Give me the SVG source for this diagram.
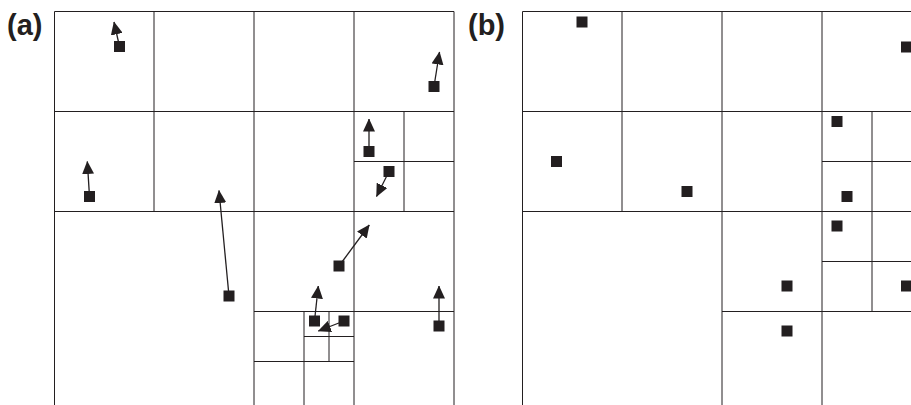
<svg xmlns="http://www.w3.org/2000/svg" width="911" height="405" viewBox="0 0 911 405">
<style>
.g{stroke:#231f20;stroke-width:1;fill:none}
.d{fill:#231f20}
.a{stroke:#231f20;stroke-width:1.3;fill:none;marker-end:url(#ah)}
.lbl{font-family:"Liberation Sans",Arial,sans-serif;font-weight:bold;font-size:29px;fill:#231f20}
</style>
<defs>
<marker id="ah" markerUnits="userSpaceOnUse" markerWidth="13" markerHeight="12" refX="12.5" refY="6" orient="auto" viewBox="0 0 13 12">
<path d="M0,0 L13,6 L0,12 z" fill="#231f20"/>
</marker>
</defs>
<rect width="911" height="405" fill="#fff"/>
<text class="lbl" x="7" y="35">(a)</text>
<text class="lbl" x="468" y="35">(b)</text>
<g id="grid-a" class="g">
<path d="M54.5,11.5H454M54.5,11.5V405M454,11.5V405M54.5,111.5H454M54.5,211.5H454M154,11.5V211.5M254,11.5V405M354,11.5V405M404,111.5V211.5M354,161.5H454M254,311.5H454M304,311.5V405M254,361.5H354M329,311.5V361.5M304,336.5H354"/>
</g>
<g id="grid-b" class="g">
<path d="M522.5,11.5H911M522.5,11.5V405M522.5,111.5H911M522.5,211.5H911M622,11.5V211.5M722,11.5V405M822,11.5V405M872,111.5V311.5M822,161.5H911M822,261.5H911M722,311.5H911"/>
</g>
<g id="connectors">
<line class="a" x1="119.5" y1="46.5" x2="114" y2="22"/>
<line class="a" x1="434" y1="86.5" x2="439.5" y2="52"/>
<line class="a" x1="369" y1="151.5" x2="369" y2="119"/>
<line class="a" x1="389" y1="171.5" x2="376.5" y2="196.5"/>
<line class="a" x1="89.5" y1="196.5" x2="87.3" y2="161.5"/>
<line class="a" x1="229" y1="296" x2="219" y2="190.5"/>
<line class="a" x1="339" y1="266" x2="369.3" y2="225"/>
<line class="a" x1="314.5" y1="321" x2="318.3" y2="286"/>
<line class="a" x1="344" y1="321" x2="318.3" y2="331"/>
<line class="a" x1="439" y1="326" x2="439" y2="286"/>
</g>
<g id="points-a" class="d">
<rect x="114" y="41" width="11" height="11"/>
<rect x="428.5" y="81" width="11" height="11"/>
<rect x="363.5" y="146" width="11" height="11"/>
<rect x="383.5" y="166" width="11" height="11"/>
<rect x="84" y="191" width="11" height="11"/>
<rect x="223.5" y="290.5" width="11" height="11"/>
<rect x="333.5" y="260.5" width="11" height="11"/>
<rect x="309" y="315.5" width="11" height="11"/>
<rect x="338.5" y="315.5" width="11" height="11"/>
<rect x="433.5" y="320.5" width="11" height="11"/>
</g>
<g id="points-b" class="d">
<rect x="576.5" y="16.5" width="11" height="11"/>
<rect x="901" y="41.5" width="11" height="11"/>
<rect x="831.5" y="116" width="11" height="11"/>
<rect x="551" y="156" width="11" height="11"/>
<rect x="681.5" y="186" width="11" height="11"/>
<rect x="841.5" y="191" width="11" height="11"/>
<rect x="831.5" y="220.5" width="11" height="11"/>
<rect x="781.5" y="280.5" width="11" height="11"/>
<rect x="901" y="280.5" width="11" height="11"/>
<rect x="781.5" y="325.5" width="11" height="11"/>
</g>
</svg>
